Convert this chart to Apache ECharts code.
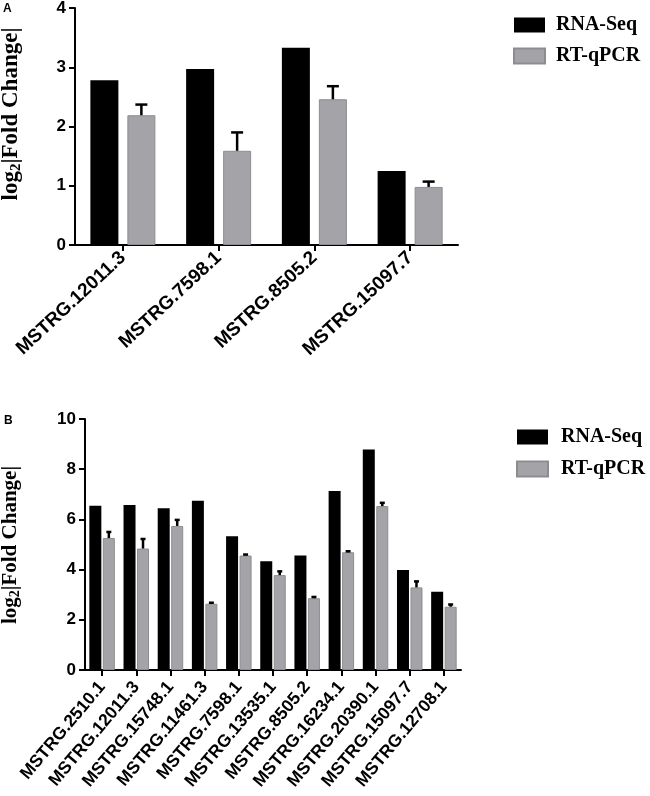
<!DOCTYPE html>
<html>
<head>
<meta charset="utf-8">
<script src="https://cdn.jsdelivr.net/npm/echarts@6/dist/echarts.min.js"></script>
<style>
html,body{margin:0;padding:0;background:#fff;}
#chart{width:650px;height:796px;}
</style>
</head>
<body>
<div id="chart"></div>
<script>
// ---- Panel A data ----
const catsA = ['MSTRG.12011.3', 'MSTRG.7598.1', 'MSTRG.8505.2', 'MSTRG.15097.7'];
const rnaA = [2.78, 2.97, 3.33, 1.25];
const qpcrA = [2.19, 1.59, 2.46, 0.98];
const errA = [0.18, 0.31, 0.22, 0.09];
const ticksA = [0, 1, 2, 3, 4];

// ---- Panel B data ----
const catsB = ['MSTRG.2510.1', 'MSTRG.12011.3', 'MSTRG.15748.1', 'MSTRG.11461.3', 'MSTRG.7598.1', 'MSTRG.13535.1', 'MSTRG.8505.2', 'MSTRG.16234.1', 'MSTRG.20390.1', 'MSTRG.15097.7', 'MSTRG.12708.1'];
const rnaB = [6.54, 6.57, 6.44, 6.74, 5.33, 4.33, 4.56, 7.13, 8.78, 3.98, 3.12];
const qpcrB = [5.26, 4.84, 5.74, 2.64, 4.56, 3.78, 2.86, 4.69, 6.53, 3.29, 2.52];
const errB = [0.24, 0.38, 0.24, 0.04, 0.04, 0.15, 0.05, 0.04, 0.13, 0.24, 0.09];
const ticksB = [0, 2, 4, 6, 8, 10];

const seriesNames = ['RNA-Seq', 'RT-qPCR'];
const yTitle = '{a|log}{b|2}{a||Fold Change|}';

const BLACK = '#000000';
const GREY = '#a4a4a8';
const GREY_BORDER = '#8d8d91';
const SANS = '"Liberation Sans", Arial, Helvetica, sans-serif';
const SERIF = '"Liberation Serif", "Times New Roman", serif';

const chart = echarts.init(document.getElementById('chart'));

function errRenderer(barW, gapPx, capHalf, lw) {
  return function (params, api) {
    const x = api.value(0), y = api.value(1), e = api.value(2);
    const base = api.coord([x, y]);
    const top = api.coord([x, y + e]);
    const cx = base[0] + (barW + gapPx) / 2;
    const st = { stroke: '#000', lineWidth: lw };
    return {
      type: 'group',
      children: [
        { type: 'line', shape: { x1: cx, y1: base[1], x2: cx, y2: top[1] }, style: st },
        { type: 'line', shape: { x1: cx - capHalf, y1: top[1], x2: cx + capHalf, y2: top[1] }, style: st }
      ]
    };
  };
}

function richName(size, sub) {
  return {
    a: { fontFamily: SERIF, fontWeight: 'bold', fontSize: size, fill: '#000', color: '#000' },
    b: { fontFamily: SERIF, fontWeight: 'bold', fontSize: sub, fill: '#000', color: '#000', padding: [Math.round(size * 0.45), 0, 0, 0] }
  };
}

const axisLine = { show: true, lineStyle: { color: '#000', width: 2 } };
const axisTick = { show: true, length: 6, lineStyle: { color: '#000', width: 2 } };

const BW_A = 28, GAP_A = 9;
const BW_B = 12, GAP_B = 1.5;

const option = {
  backgroundColor: '#fff',
  animation: false,
  graphic: [
    { type: 'text', left: 3, top: 3, style: { text: 'A', font: 'bold 12px ' + SANS, fill: '#000' } },
    { type: 'text', left: 4, top: 415, style: { text: 'B', font: 'bold 12px ' + SANS, fill: '#000' } },
    { type: 'text', x: 11, y: 114, rotation: Math.PI / 2,
      style: { text: yTitle, rich: richName(23, 15), align: 'center', verticalAlign: 'middle', fill: '#000' } },
    { type: 'text', x: 11, y: 545, rotation: Math.PI / 2,
      style: { text: yTitle, rich: richName(21, 14), align: 'center', verticalAlign: 'middle', fill: '#000' } }
  ],
  legend: [
    {
      data: seriesNames, left: 513, top: 15, padding: 0, orient: 'vertical', icon: 'rect',
      itemWidth: 31, itemHeight: 15, itemGap: 11,
      textStyle: { fontFamily: SERIF, fontWeight: 'bold', fontSize: 20, color: '#000', padding: [0, 0, 0, 6] }
    },
    {
      data: seriesNames, left: 516, top: 427, padding: 0, orient: 'vertical', icon: 'rect',
      itemWidth: 31, itemHeight: 15, itemGap: 12,
      textStyle: { fontFamily: SERIF, fontWeight: 'bold', fontSize: 20, color: '#000', padding: [0, 0, 0, 8] }
    }
  ],
  grid: [
    { left: 75, right: 192, top: 8, bottom: 551, containLabel: false, outerBoundsMode: 'none' },
    { left: 85, right: 189, top: 419, bottom: 126, containLabel: false, outerBoundsMode: 'none' }
  ],
  xAxis: [
    {
      type: 'category', gridIndex: 0, data: catsA,
      axisLine: axisLine, axisTick: Object.assign({ alignWithLabel: true }, axisTick),
      axisLabel: { rotate: 43, interval: 0, margin: 10, fontFamily: SANS, fontWeight: 'bold', fontSize: 19, color: '#000' },
      splitLine: { show: false }
    },
    {
      type: 'category', gridIndex: 1, data: catsB,
      axisLine: axisLine, axisTick: Object.assign({ alignWithLabel: true }, axisTick),
      axisLabel: { rotate: 50, interval: 0, margin: 14, fontFamily: SANS, fontWeight: 'bold', fontSize: 17.5, color: '#000' },
      splitLine: { show: false }
    }
  ],
  yAxis: [
    {
      type: 'value', gridIndex: 0, min: ticksA[0], max: ticksA[ticksA.length - 1], interval: 1,
      axisLine: axisLine, axisTick: axisTick, splitLine: { show: false },
      axisLabel: { margin: 9, fontFamily: SANS, fontWeight: 'bold', fontSize: 17, color: '#000' }
    },
    {
      type: 'value', gridIndex: 1, min: ticksB[0], max: ticksB[ticksB.length - 1], interval: 2,
      axisLine: axisLine, axisTick: axisTick, splitLine: { show: false },
      axisLabel: { margin: 9, fontFamily: SANS, fontWeight: 'bold', fontSize: 17, color: '#000' }
    }
  ],
  series: [
    { name: seriesNames[0], type: 'bar', xAxisIndex: 0, yAxisIndex: 0, data: rnaA, barWidth: BW_A, barGap: (GAP_A / BW_A * 100) + '%', itemStyle: { color: BLACK } },
    { name: seriesNames[1], type: 'bar', xAxisIndex: 0, yAxisIndex: 0, data: qpcrA, barWidth: BW_A, barGap: (GAP_A / BW_A * 100) + '%', itemStyle: { color: GREY, borderColor: GREY_BORDER, borderWidth: 1 } },
    { name: 'errA', type: 'custom', xAxisIndex: 0, yAxisIndex: 0, data: qpcrA.map((v, i) => [i, v, errA[i]]), renderItem: errRenderer(BW_A, GAP_A, 6, 2.5), z: 5 },
    { name: seriesNames[0], type: 'bar', xAxisIndex: 1, yAxisIndex: 1, data: rnaB, barWidth: BW_B, barGap: (GAP_B / BW_B * 100) + '%', itemStyle: { color: BLACK } },
    { name: seriesNames[1], type: 'bar', xAxisIndex: 1, yAxisIndex: 1, data: qpcrB, barWidth: BW_B, barGap: (GAP_B / BW_B * 100) + '%', itemStyle: { color: GREY, borderColor: GREY_BORDER, borderWidth: 1 } },
    { name: 'errB', type: 'custom', xAxisIndex: 1, yAxisIndex: 1, data: qpcrB.map((v, i) => [i, v, errB[i]]), renderItem: errRenderer(BW_B, GAP_B, 2.5, 2.5), z: 5 }
  ]
};
chart.setOption(option);
</script>
</body>
</html>
